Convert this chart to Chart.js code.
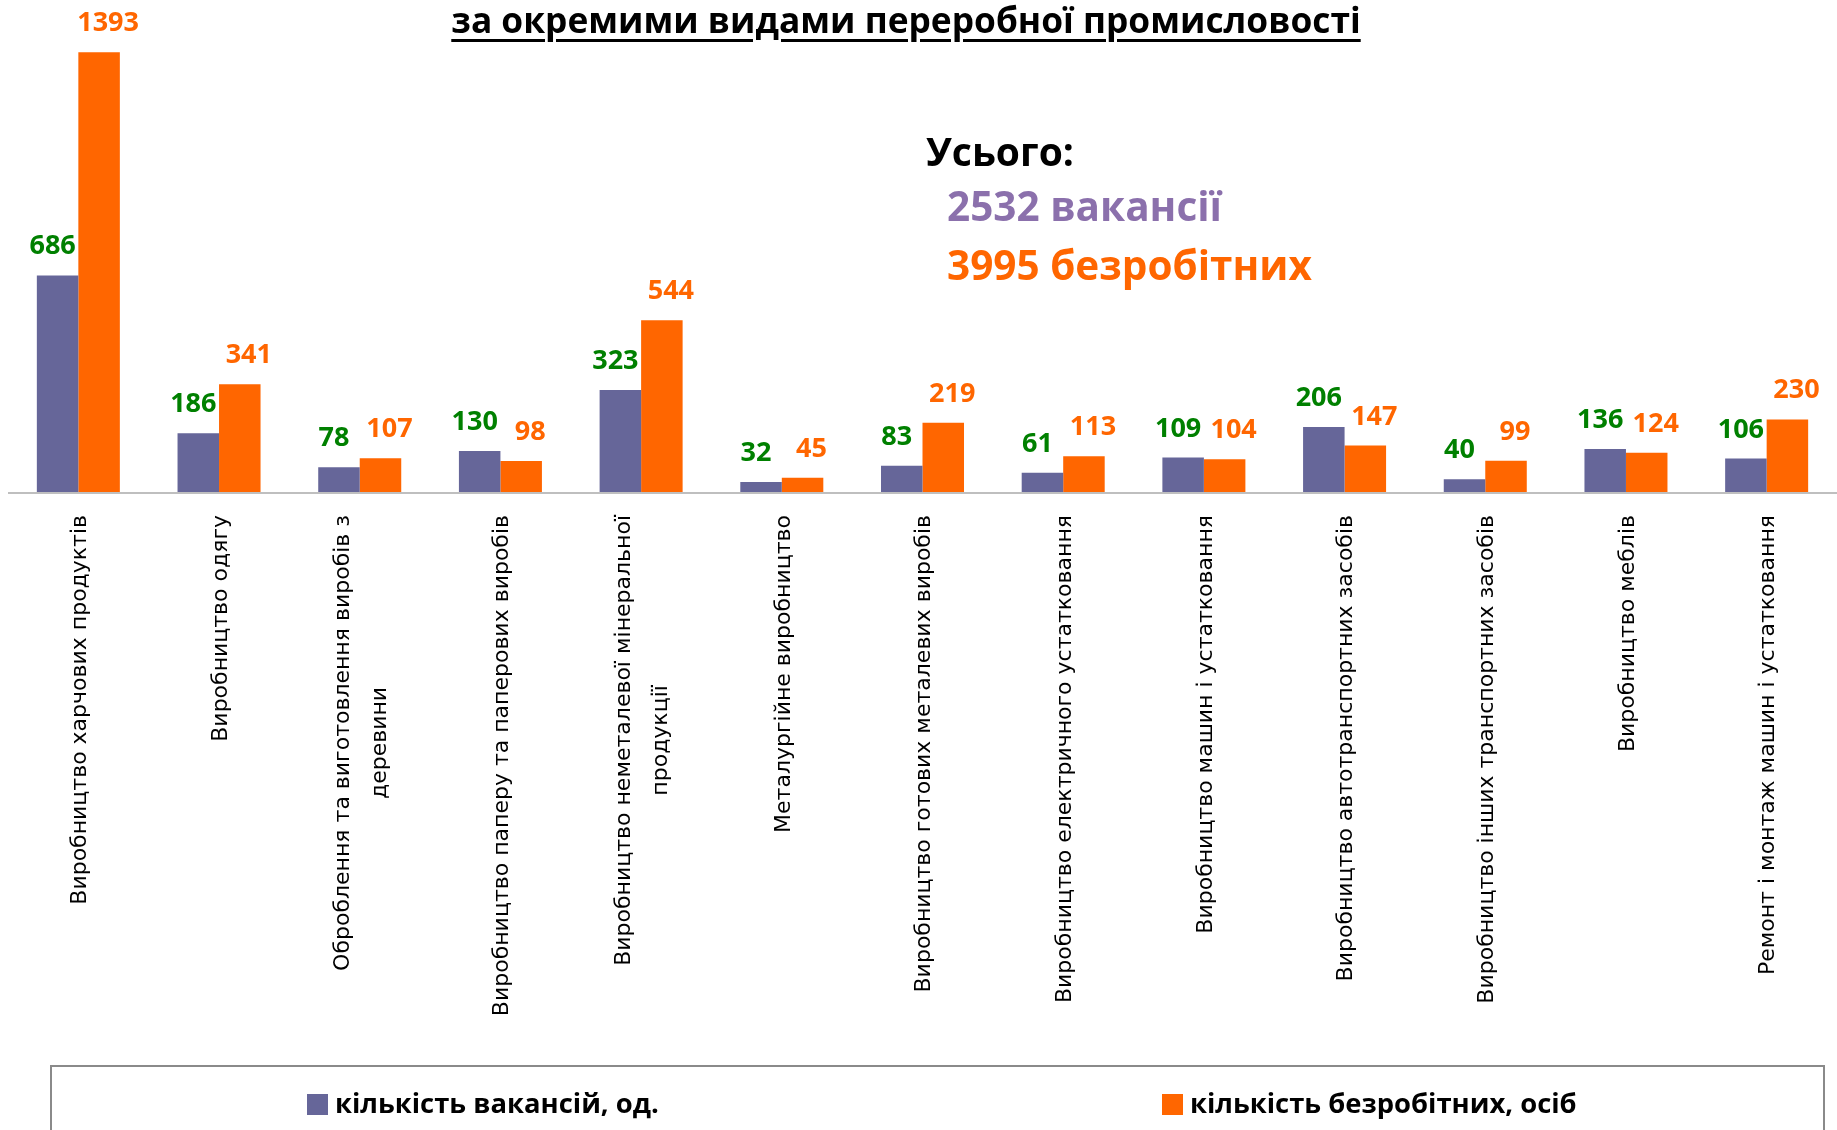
<!DOCTYPE html>
<html>
<head>
<meta charset="utf-8">
<script src="https://cdn.jsdelivr.net/npm/chart.js@4/dist/chart.umd.min.js"></script>
<style>
  body { margin: 0; background: #fff; }
  #wrap { position: relative; width: 1837px; height: 1130px; overflow: hidden; font-family: "Open Sans", sans-serif; }
  #myChart { position: absolute; left: 0; top: 0; }
  .title { position: absolute; left: 0; width: 1812px; top: -5px; text-align: center; font-size: 35.3px; font-weight: bold; color: #000; text-decoration: underline; text-decoration-thickness: 3px; text-underline-offset: 6px; }
  .total { position: absolute; left: 926px; font-weight: bold; font-size: 39px; white-space: nowrap; line-height: 1; }
  .legend-box { position: absolute; left: 50px; top: 1065px; width: 1771px; height: 100px; border: 2px solid #8a8a8a; }
  .legend-item { position: absolute; top: 1084px; font-size: 27.4px; font-weight: bold; color: #000; white-space: nowrap; }
  .legend-item span { display: inline-block; width: 21px; height: 21px; margin-right: 7px; vertical-align: -2px; }
</style>
</head>
<body>
<div id="wrap">
  <canvas id="myChart" width="1837" height="1130"></canvas>
  <div class="title">за окремими видами переробної промисловості</div>
  <div class="total" style="top: 131px; color: #000;">Усього:</div>
  <div class="total" style="top: 186px; left: 947px; font-size: 40.5px; color: #8b70ac;">2532 вакансії</div>
  <div class="total" style="top: 245px; left: 947px; font-size: 40.5px; color: #ff6600;">3995 безробітних</div>
  <div class="legend-box"></div>
  <div class="legend-item" style="left: 307px;"><span style="background:#666699"></span>кількість вакансій, од.</div>
  <div class="legend-item" style="left: 1162px;"><span style="background:#ff6600"></span>кількість безробітних, осіб</div>
</div>
<script>
const categories = [
  ["Виробництво харчових продуктів"],
  ["Виробництво одягу"],
  ["Оброблення та виготовлення виробів з", "деревини"],
  ["Виробництво паперу та паперових виробів"],
  ["Виробництво неметалевої мінеральної", "продукції"],
  ["Металургійне виробництво"],
  ["Виробництво готових металевих виробів"],
  ["Виробництво електричного устатковання"],
  ["Виробництво машин і устатковання"],
  ["Виробництво автотранспортних засобів"],
  ["Виробництво інших транспортних засобів"],
  ["Виробництво меблів"],
  ["Ремонт і монтаж машин і устатковання"]
];
const vacancies = [686, 186, 78, 130, 323, 32, 83, 61, 109, 206, 40, 136, 106];
const unemployed = [1393, 341, 107, 98, 544, 45, 219, 113, 104, 147, 99, 124, 230];
const seriesNames = ["кількість вакансій, од.", "кількість безробітних, осіб"];

// value labels above bars + zero line + rotated category names
const extras = {
  id: "extras",
  afterDatasetsDraw(chart) {
    const ctx = chart.ctx;
    const xs = chart.scales.x;
    const ys = chart.scales.y;
    const y0 = ys.getPixelForValue(0);

    ctx.save();
    ctx.strokeStyle = "#bfbfbf";
    ctx.lineWidth = 2;
    ctx.beginPath();
    ctx.moveTo(8, y0 + 1);
    ctx.lineTo(chart.width, y0 + 1);
    ctx.stroke();

    const labelColors = ["#008000", "#ff6600"];
    const shift = [-5, 9];
    ctx.font = "bold 27px 'Open Sans'";
    ctx.textAlign = "center";
    ctx.textBaseline = "alphabetic";
    chart.data.datasets.forEach((ds, di) => {
      const meta = chart.getDatasetMeta(di);
      ctx.fillStyle = labelColors[di];
      meta.data.forEach((bar, i) => {
        ctx.fillText(String(ds.data[i]), bar.x + shift[di], bar.y - 21);
      });
    });

    ctx.fillStyle = "#000";
    ctx.font = "22px 'DejaVu Sans'";
    ctx.textBaseline = "middle";
    categories.forEach((lines, i) => {
      const cx = xs.getPixelForValue(i);
      const w = Math.max(...lines.map(l => ctx.measureText(l).width));
      ctx.save();
      ctx.translate(cx + 2, y0 + 23);
      ctx.rotate(-Math.PI / 2);
      lines.forEach((l, li) => {
        ctx.fillText(l, -w / 2, (li - (lines.length - 1) / 2) * 37);
      });
      ctx.restore();
    });
    ctx.restore();
  }
};

new Chart(document.getElementById("myChart"), {
  type: "bar",
  data: {
    labels: categories,
    datasets: [
      { label: seriesNames[0], data: vacancies, backgroundColor: "#666699" },
      { label: seriesNames[1], data: unemployed, backgroundColor: "#ff6600" }
    ]
  },
  options: {
    responsive: false,
    animation: false,
    layout: { padding: { left: 8, right: 0, top: 50, bottom: 638 } },
    datasets: { bar: { categoryPercentage: 0.59, barPercentage: 1 } },
    scales: {
      x: { display: false },
      y: { display: false, min: 0, max: 1400 }
    },
    plugins: { legend: { display: false }, tooltip: { enabled: false } }
  },
  plugins: [extras]
});
</script>
</body>
</html>
